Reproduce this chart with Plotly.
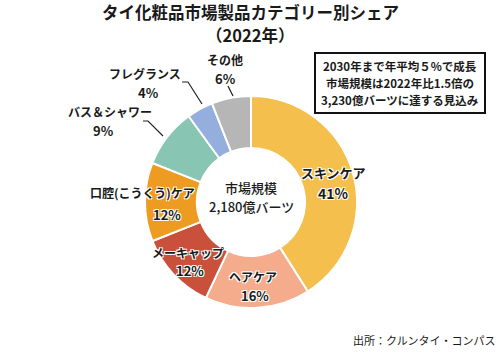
import plotly.graph_objects as go

categories = ["スキンケア", "ヘアケア", "メーキャップ", "口腔（こうくう）ケア", "バス＆シャワー", "フレグランス", "その他"]
shares = [41, 16, 12, 12, 9, 4, 6]
colors = ["#F4BF4C", "#F4AC8D", "#C9513B", "#EE9B22", "#88C5B2", "#94AEDD", "#B6B6B6"]

FONT = "Noto Sans CJK JP"
W, H = 500, 352

fig = go.Figure(go.Pie(
    labels=categories, values=shares, sort=False, direction="clockwise", rotation=0,
    hole=0.51, marker=dict(colors=colors, line=dict(color="white", width=2)),
    textinfo="none", hoverinfo="label+percent",
    domain=dict(x=[145 / W, 357 / W], y=[(H - 308) / H, (H - 96) / H]),
    showlegend=False,
))

def px(x, y):
    return x / W, 1 - y / H

halo = "-1px -1px 0 #fff, 1px -1px 0 #fff, -1px 1px 0 #fff, 1px 1px 0 #fff"
ann = []
def add(text, x, y, size=12, weight=500, shadow=None, anchor="center"):
    xx, yy = px(x, y)
    ann.append(dict(text=text, x=xx, y=yy, xref="paper", yref="paper",
                    showarrow=False, xanchor=anchor, yanchor="middle", align="center",
                    font=dict(family=FONT, size=size, color="#1a1a1a", weight=weight,
                              shadow=shadow or "none")))

# title
add("タイ化粧品市場製品カテゴリー別シェア", 250, 12, 16.5, 700)
add("（2022年）", 250, 35, 16.5, 700)

# slice labels: name position, pct position
label_pos = [
    (333, 172, 333, 193, 13, 14),
    (253, 276, 255, 295, 12, 13),
    (188, 252, 190, 270, 12, 13),
    (142, 192, 167, 214, 12, 13),
    (110, 112, 103, 131, 12, 13),
    (145, 73, 148, 92, 12, 13),
    (225, 60, 225, 79, 12, 13),
]
for cat, val, (lx, ly, vx, vy, s1, s2) in zip(categories, shares, label_pos):
    name = cat.replace("（", "(").replace("）", ")") if cat.startswith("口腔") else cat
    add(name, lx, ly, s1, 600, halo)
    add("%d%%" % val, vx, vy, s2, 700, halo)

# center text
add("市場規模", 251, 187, 13, 500)
add("2,180億バーツ", 251, 207, 13, 500)

# note box text
for i, t in enumerate(["2030年まで年平均５%で成長", "市場規模は2022年比1.5倍の", "3,230億バーツに達する見込み"]):
    add(t, 400, 66 + 17 * i, 11.5, 700)

# source
add("出所：クルンタイ・コンパス", 497, 340, 11, 400, None, "right")

shapes = []
def line(pts):
    path = "M " + " L ".join("%f,%f" % px(x, y) for x, y in pts)
    shapes.append(dict(type="path", path=path, xref="paper", yref="paper",
                       line=dict(color="#222", width=1.2)))
line([(143, 121), (148, 121), (163, 136)])
line([(182, 82), (188, 82), (202, 104)])
line([(228, 86), (233, 96)])

x0, y0 = px(315, 53)
x1, y1 = px(485, 113)
shapes.append(dict(type="rect", xref="paper", yref="paper", x0=x0, y0=y0, x1=x1, y1=y1,
                   line=dict(color="#111", width=2), fillcolor="white"))

fig.update_layout(width=W, height=H, margin=dict(l=0, r=0, t=0, b=0),
                  paper_bgcolor="white", plot_bgcolor="white",
                  annotations=ann, shapes=shapes)
fig.write_html("out.html")
